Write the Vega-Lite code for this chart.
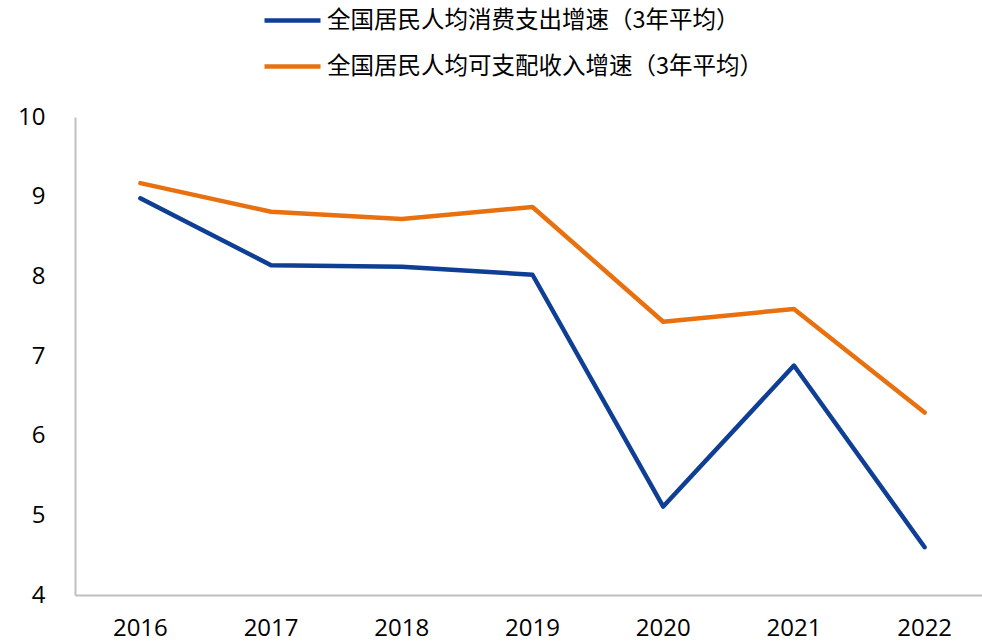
{
  "$schema": "https://vega.github.io/schema/vega-lite/v6.json",
  "width": 915,
  "height": 478,
  "autosize": {"type": "none"},
  "padding": {"left": 75, "top": 117, "right": 0, "bottom": 48},
  "background": "white",
  "data": {
    "values": [
      {"year": "2016", "series": "全国居民人均消费支出增速（3年平均）", "value": 8.98},
      {"year": "2017", "series": "全国居民人均消费支出增速（3年平均）", "value": 8.14},
      {"year": "2018", "series": "全国居民人均消费支出增速（3年平均）", "value": 8.12},
      {"year": "2019", "series": "全国居民人均消费支出增速（3年平均）", "value": 8.02},
      {"year": "2020", "series": "全国居民人均消费支出增速（3年平均）", "value": 5.11},
      {"year": "2021", "series": "全国居民人均消费支出增速（3年平均）", "value": 6.88},
      {"year": "2022", "series": "全国居民人均消费支出增速（3年平均）", "value": 4.6},
      {"year": "2016", "series": "全国居民人均可支配收入增速（3年平均）", "value": 9.17},
      {"year": "2017", "series": "全国居民人均可支配收入增速（3年平均）", "value": 8.81},
      {"year": "2018", "series": "全国居民人均可支配收入增速（3年平均）", "value": 8.72},
      {"year": "2019", "series": "全国居民人均可支配收入增速（3年平均）", "value": 8.87},
      {"year": "2020", "series": "全国居民人均可支配收入增速（3年平均）", "value": 7.43},
      {"year": "2021", "series": "全国居民人均可支配收入增速（3年平均）", "value": 7.59},
      {"year": "2022", "series": "全国居民人均可支配收入增速（3年平均）", "value": 6.29}
    ]
  },
  "mark": {"type": "line", "strokeWidth": 4.5, "strokeCap": "round", "strokeJoin": "round"},
  "encoding": {
    "x": {
      "field": "year",
      "type": "ordinal",
      "scale": {"type": "band", "paddingInner": 0, "paddingOuter": 0},
      "axis": {
        "title": null,
        "labelAngle": 0,
        "ticks": false,
        "domainColor": "#BFBFBF",
        "domainWidth": 2,
        "labelFont": "Open Sans",
        "labelFontSize": 24,
        "labelColor": "#000000",
        "labelPadding": 21,
        "grid": false
      }
    },
    "y": {
      "field": "value",
      "type": "quantitative",
      "scale": {"domain": [4, 10], "nice": false, "zero": false},
      "axis": {
        "title": null,
        "values": [4, 5, 6, 7, 8, 9, 10],
        "ticks": false,
        "grid": false,
        "domainColor": "#BFBFBF",
        "domainWidth": 2,
        "labelFont": "Open Sans",
        "labelFontSize": 24,
        "labelColor": "#000000",
        "labelPadding": 30
      }
    },
    "color": {
      "field": "series",
      "type": "nominal",
      "sort": ["全国居民人均消费支出增速（3年平均）", "全国居民人均可支配收入增速（3年平均）"],
      "scale": {
        "domain": ["全国居民人均消费支出增速（3年平均）", "全国居民人均可支配收入增速（3年平均）"],
        "range": ["#0E3F94", "#E8700F"]
      },
      "legend": {
        "title": null,
        "orient": "none",
        "legendX": 187,
        "legendY": -127,
        "direction": "vertical",
        "symbolType": "stroke",
        "symbolSize": 3136,
        "symbolStrokeWidth": 4.5,
        "labelFont": "Noto Sans CJK SC",
        "labelFontSize": 23.5,
        "labelColor": "#000000",
        "rowPadding": 4,
        "labelOffset": 4,
        "labelLimit": 700
      }
    }
  },
  "config": {"view": {"stroke": null}}
}
